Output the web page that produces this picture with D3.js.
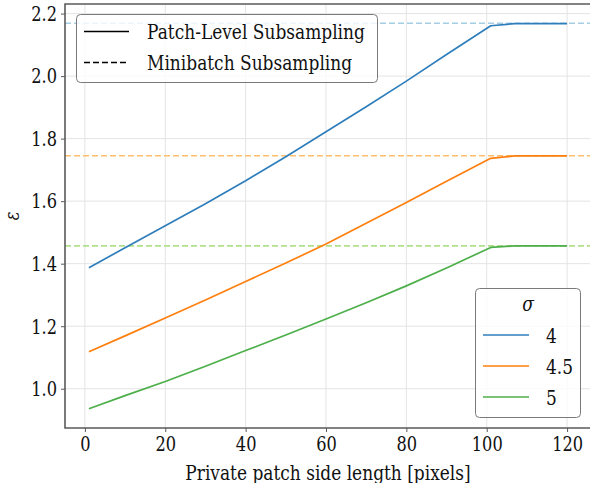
<!DOCTYPE html>
<html>
<head>
<meta charset="utf-8">
<script src="https://cdn.jsdelivr.net/npm/d3@7"></script>
<style>
  html, body { margin: 0; padding: 0; background: #fff; }
  svg { display: block; overflow: hidden; }
</style>
</head>
<body>
<svg id="chart" width="590" height="483"></svg>
<script>
// Patch side lengths (pixels) at which epsilon was evaluated
const sideLengths = [1, 10, 20, 30, 40, 50, 60, 70, 80, 90, 101, 107, 120];

// Privacy budget epsilon for patch-level subsampling, one series per sigma
const sigmaLabels = ["4", "4.5", "5"];
const epsSigma4   = [1.387, 1.451, 1.521, 1.592, 1.665, 1.742, 1.822, 1.902, 1.984, 2.069, 2.161, 2.168, 2.168];
const epsSigma45  = [1.118, 1.169, 1.226, 1.284, 1.343, 1.402, 1.463, 1.529, 1.596, 1.664, 1.737, 1.745, 1.745];
const epsSigma5   = [0.936, 0.978, 1.023, 1.072, 1.122, 1.172, 1.223, 1.275, 1.329, 1.386, 1.452, 1.457, 1.457];

// Epsilon under plain minibatch subsampling (horizontal reference lines)
const epsMinibatch = [2.169, 1.745, 1.457];

const xTicks = [0, 20, 40, 60, 80, 100, 120];
const yTicks = [1.0, 1.2, 1.4, 1.6, 1.8, 2.0, 2.2];

const solidColors  = ["#2f7ebc", "#ff7f0e", "#4caf4a"];
const dashedColors = ["#a6cee3", "#fdbf6f", "#b2df8a"];

const series = [epsSigma4, epsSigma45, epsSigma5];

const FONT = "'DejaVu Serif', serif";
const TEXT_SQUEEZE = 0.81;   // narrower set width for the serif face

const svg = d3.select("#chart");
const plot = { left: 65, top: 4, right: 591, bottom: 428 };

// Axis ranges with a 5% margin around the data
const xMin = d3.min(sideLengths), xMax = d3.max(sideLengths);
const allY = series.flat().concat(epsMinibatch);
const yMin = d3.min(allY), yMax = d3.max(allY);
const xPad = (xMax - xMin) * 0.05, yPad = (yMax - yMin) * 0.05;

const x = d3.scaleLinear().domain([xMin - xPad, xMax + xPad]).range([plot.left, plot.right]);
const y = d3.scaleLinear().domain([yMin - yPad, yMax + yPad]).range([plot.bottom, plot.top]);

const gridColor = "#e4e4e4";
const spineColor = "#5a5a5a";

// Grid
const grid = svg.append("g");
grid.selectAll("line.gx").data(xTicks).join("line")
  .attr("x1", d => x(d)).attr("x2", d => x(d))
  .attr("y1", plot.top).attr("y2", plot.bottom)
  .attr("stroke", gridColor).attr("stroke-width", 1);
grid.selectAll("line.gy").data(yTicks).join("line")
  .attr("x1", plot.left).attr("x2", plot.right)
  .attr("y1", d => y(d)).attr("y2", d => y(d))
  .attr("stroke", gridColor).attr("stroke-width", 1);

// Minibatch reference lines
svg.append("g").selectAll("line").data(epsMinibatch).join("line")
  .attr("x1", plot.left).attr("x2", plot.right)
  .attr("y1", d => y(d)).attr("y2", d => y(d))
  .attr("stroke", (d, i) => dashedColors[i])
  .attr("stroke-width", 1.6)
  .attr("stroke-dasharray", "6,3");

// Patch-level curves
const line = d3.line().x((d, i) => x(sideLengths[i])).y(d => y(d));
svg.append("g").selectAll("path").data(series).join("path")
  .attr("d", line)
  .attr("fill", "none")
  .attr("stroke", (d, i) => solidColors[i])
  .attr("stroke-width", 1.7)
  .attr("stroke-linejoin", "round");

// Axes
const xAxis = d3.axisBottom(x).tickValues(xTicks).tickFormat(d3.format("d")).tickSizeOuter(0).tickSize(4).tickPadding(4);
const yAxis = d3.axisLeft(y).tickValues(yTicks).tickFormat(d3.format(".1f")).tickSizeOuter(0).tickSize(4).tickPadding(4);

const gx = svg.append("g").attr("transform", `translate(0,${plot.bottom})`).call(xAxis);
const gy = svg.append("g").attr("transform", `translate(${plot.left},0)`).call(yAxis);
[gx, gy].forEach(g => {
  g.select(".domain").remove();
  g.selectAll(".tick line").attr("stroke", spineColor).attr("stroke-width", 1);
  g.selectAll(".tick text").attr("font-size", 20).attr("fill", "#111");
});
gy.selectAll(".tick text").attr("dy", "0.34em");
gx.selectAll(".tick text").attr("dy", "0.74em");

// Spines (left, bottom, top)
svg.append("path")
  .attr("d", `M${plot.right},${plot.top}H${plot.left}V${plot.bottom}H${plot.right}`)
  .attr("fill", "none").attr("stroke", spineColor).attr("stroke-width", 1.6);

// Axis titles
svg.append("text")
  .attr("x", (plot.left + plot.right) / 2).attr("y", 480)
  .attr("text-anchor", "middle").attr("font-size", 21)
  .text("Private patch side length [pixels]");
svg.append("text")
  .attr("transform", `translate(19,${(plot.top + plot.bottom) / 2}) rotate(-90)`)
  .attr("text-anchor", "middle").attr("font-size", 20).attr("font-style", "italic")
  .text("ε");

// Line-style legend
const leg1 = svg.append("g");
leg1.append("rect")
  .attr("x", 76.5).attr("y", 14.5).attr("width", 301).attr("height", 68).attr("rx", 4)
  .attr("fill", "#fff").attr("fill-opacity", 0.8)
  .attr("stroke", "#7a7a7a").attr("stroke-width", 1);
const styleItems = [
  { label: "Patch-Level Subsampling", dash: null },
  { label: "Minibatch Subsampling", dash: "6,3" }
];
styleItems.forEach((it, i) => {
  const cy = 31.5 + i * 31;
  leg1.append("line").attr("x1", 84).attr("x2", 129).attr("y1", cy).attr("y2", cy)
    .attr("stroke", "#000").attr("stroke-width", 1.5)
    .attr("stroke-dasharray", it.dash);
  leg1.append("text").attr("x", 147).attr("y", cy + 7.5).attr("font-size", 21).text(it.label);
});

// Sigma legend
const leg2 = svg.append("g");
leg2.append("rect")
  .attr("x", 475.5).attr("y", 288.5).attr("width", 105).attr("height", 129).attr("rx", 4)
  .attr("fill", "#fff").attr("fill-opacity", 0.8)
  .attr("stroke", "#7a7a7a").attr("stroke-width", 1);
leg2.append("text").attr("x", 528).attr("y", 311).attr("text-anchor", "middle")
  .attr("font-size", 21).attr("font-style", "italic").text("σ");
sigmaLabels.forEach((lab, i) => {
  const cy = 335 + i * 31;
  leg2.append("line").attr("x1", 483).attr("x2", 529).attr("y1", cy).attr("y2", cy)
    .attr("stroke", solidColors[i]).attr("stroke-width", 1.7);
  leg2.append("text").attr("x", 546).attr("y", cy + 7.5).attr("font-size", 21).text(lab);
});

// One serif face for every label, set a little narrower
svg.selectAll("text")
  .attr("font-family", FONT).style("font-family", FONT).attr("fill", "#111")
  .each(function () {
    const w = this.getComputedTextLength();
    d3.select(this).attr("textLength", w * TEXT_SQUEEZE).attr("lengthAdjust", "spacingAndGlyphs");
  });
</script>
</body>
</html>
